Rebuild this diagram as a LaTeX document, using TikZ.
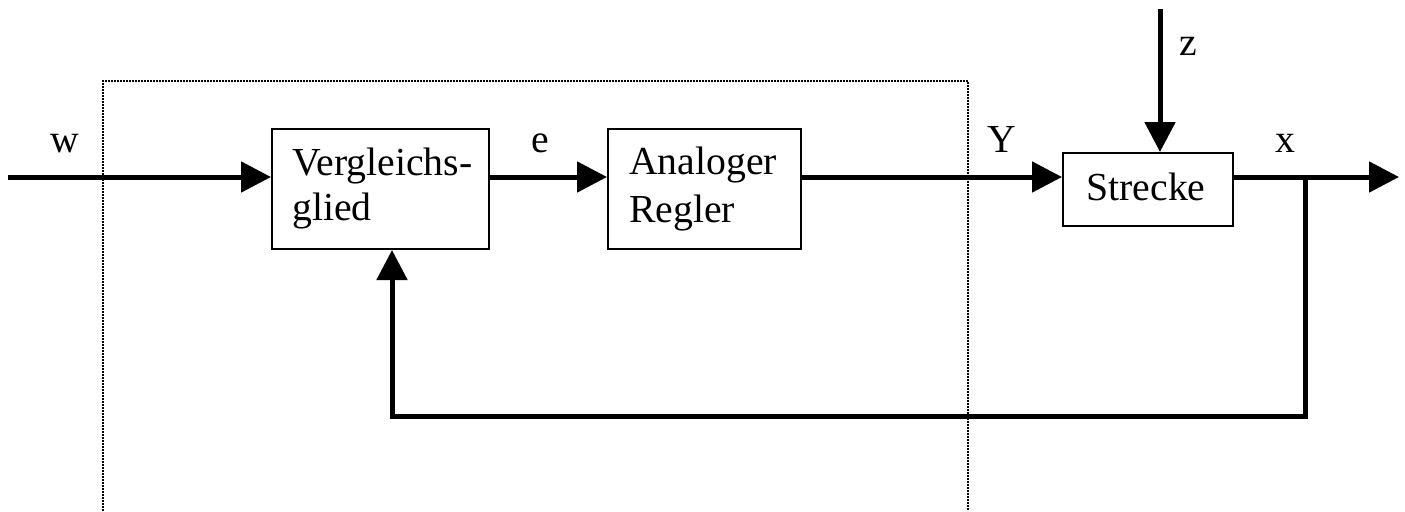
\documentclass[tikz,border=0pt]{standalone}
\usepackage{fontspec}
\setmainfont{Liberation Serif}
\usetikzlibrary{arrows.meta}
\begin{document}
\begin{tikzpicture}[x=0.75pt,y=-0.75pt,
  box/.style={draw,line width=1.5pt,minimum width=#1,inner sep=0pt},
  sig/.style={line width=3.75pt,-{Triangle[length=22.5pt,width=22.5pt]}},
  sigplain/.style={line width=3.75pt},
  lbl/.style={anchor=base,inner sep=0pt,font=\fontsize{29.8}{34}\selectfont},
  txt/.style={anchor=base west,inner sep=0pt,font=\fontsize{29.8}{34}\selectfont},
  frame/.style={line width=1.7pt,dash pattern=on 1.2pt off 1.05pt}]
\useasboundingbox (0,0) rectangle (1405,511);
% frame
\draw[frame] (103,511) -- (103,81) -- (968,81) -- (968,511);
% boxes
\node[box=162.75pt,minimum height=90pt] (V) at (380.5,189) {};
\node[box=144.75pt,minimum height=90pt] (A) at (704.5,189) {};
\node[box=127.5pt,minimum height=54.75pt] (S) at (1148,189.5) {};
% box texts
\node[txt] (V1) at (292,175) {Vergleichs-};
\node[txt] (V2) at (292,220) {glied};
\node[txt] (A1) at (629,174) {Analoger};
\node[txt] (A2) at (629,222) {Regler};
\node[lbl] (S1) at (1146,200) {Strecke};
% labels
\node[lbl] (lw) at (65,152) {w};
\node[lbl] (le) at (540,152) {e};
\node[lbl] (lY) at (1002,152) {Y};
\node[lbl] (lx) at (1285,152) {x};
\node[lbl] (lz) at (1188,55) {z};
% coordinates
\coordinate (in) at (8,177);
\coordinate (out) at (1399,177);
\coordinate (zt) at (1160,9);
\coordinate (j) at (1305,177);
\coordinate (fb) at (392,416);
% connectors
\draw[sig] (in) -- (in -| V.west);
\draw[sig] (V.east |- in) -- (A.west |- in);
\draw[sig] (A.east |- in) -- (S.west |- in);
\draw[sig] (S.east |- in) -- (out);
\draw[sig] (zt) -- (zt |- S.north);
\draw[sigplain,line join=miter] (j) |- (fb) -- ([yshift=-40pt]fb |- V.south);
\draw[sig] ([yshift=-40pt]fb |- V.south) -- (fb |- V.south);
\end{tikzpicture}
\end{document}
